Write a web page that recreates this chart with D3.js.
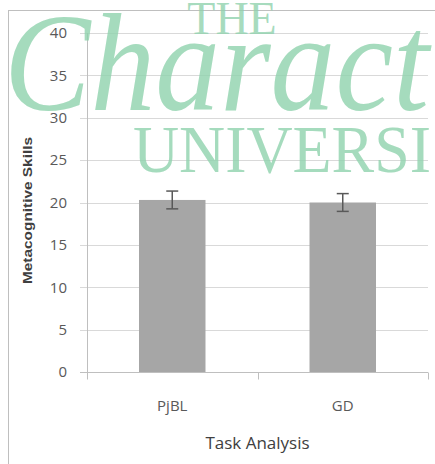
<!DOCTYPE html>
<html><head><meta charset="utf-8">
<script src="https://cdn.jsdelivr.net/npm/d3@7"></script>
<style>html,body{margin:0;padding:0;background:#fff;overflow:hidden}</style>
</head><body>
<svg id="c" width="435" height="464"></svg>
<script>
const categories = ["PjBL", "GD"];
const values = [20.3, 20.0];
const errors = [1.05, 1.05];
const yTicks = [0, 5, 10, 15, 20, 25, 30, 35, 40];
const yTitle = "Metacognitive Skills";
const xTitle = "Task Analysis";

const svg = d3.select("#c");
const W = 435, H = 464;
const m = {left: 87, right: 7, top: 33, bottom: 92};

// outer chart border
svg.append("rect").attr("x", 8.5).attr("y", 10.5).attr("width", 440).attr("height", 470)
  .attr("fill", "none").attr("stroke", "#bfbfbf").attr("stroke-width", 1);

const x = d3.scaleBand().domain(categories).range([m.left, W - m.right]).paddingInner(0.61).paddingOuter(0.305);
const y = d3.scaleLinear().domain([0, 40]).range([H - m.bottom, m.top]);

// gridlines
svg.append("g").selectAll("line").data(yTicks.filter(d => d > 0)).join("line")
  .attr("x1", m.left - 7).attr("x2", W - m.right)
  .attr("y1", d => Math.round(y(d)) + 0.5).attr("y2", d => Math.round(y(d)) + 0.5)
  .attr("stroke", "#d9d9d9").attr("stroke-width", 1);

// y axis line
svg.append("line").attr("x1", m.left + 0.5).attr("x2", m.left + 0.5)
  .attr("y1", y(40)).attr("y2", y(0)).attr("stroke", "#bfbfbf");

// y tick labels
const yAxis = d3.axisLeft(y).tickValues(yTicks).tickSize(0).tickPadding(20);
const gy = svg.append("g").attr("transform", `translate(${m.left},0)`).call(yAxis);
gy.select(".domain").remove();
gy.selectAll("text").attr("fill", "#595959").style("font-family", "'Open Sans', sans-serif").style("font-size", "15px");

// x axis
const x0 = Math.round(y(0)) + 0.5;
svg.append("line").attr("x1", m.left - 7).attr("x2", W - m.right).attr("y1", x0).attr("y2", x0).attr("stroke", "#bfbfbf");
const bandEdges = [m.left, m.left + (W - m.right - m.left) / 2, W - m.right];
svg.append("g").selectAll("line").data(bandEdges).join("line")
  .attr("x1", d => Math.round(d) + 0.5).attr("x2", d => Math.round(d) + 0.5)
  .attr("y1", x0).attr("y2", x0 + 7).attr("stroke", "#bfbfbf");

const xAxis = d3.axisBottom(x).tickSize(0).tickPadding(28);
const gx = svg.append("g").attr("transform", `translate(0,${y(0)})`).call(xAxis);
gx.select(".domain").remove();
gx.selectAll("text").attr("fill", "#595959").style("font-family", "'Open Sans', sans-serif").style("font-size", "15px");

// bars
svg.append("g").selectAll("rect").data(categories).join("rect")
  .attr("x", d => x(d)).attr("width", x.bandwidth())
  .attr("y", (d, i) => y(values[i])).attr("height", (d, i) => y(0) - y(values[i]))
  .attr("fill", "#a6a6a6");

// error bars
const eb = svg.append("g").attr("stroke", "#595959").attr("stroke-width", 1.5).attr("fill", "none");
categories.forEach((c, i) => {
  const cx = x(c) + x.bandwidth() / 2;
  const t = y(values[i] + errors[i]), b = y(values[i] - errors[i]);
  eb.append("line").attr("x1", cx).attr("x2", cx).attr("y1", t).attr("y2", b);
  eb.append("line").attr("x1", cx - 6).attr("x2", cx + 6).attr("y1", t).attr("y2", t);
  eb.append("line").attr("x1", cx - 6).attr("x2", cx + 6).attr("y1", b).attr("y2", b);
});

// axis titles
svg.append("text").attr("transform", `translate(32,${(y(0) + y(40)) / 2 + 8}) rotate(-90)`)
  .attr("text-anchor", "middle").attr("fill", "#404040")
  .style("font-family", "'Liberation Sans', Arial, sans-serif").style("font-size", "12px").style("font-weight", "bold")
  .attr("textLength", 147).attr("lengthAdjust", "spacingAndGlyphs")
  .text(yTitle);
svg.append("text").attr("x", bandEdges[1]).attr("y", 449).attr("text-anchor", "middle")
  .attr("fill", "#404040").style("font-family", "'Open Sans', sans-serif").style("font-size", "17px")
  .text(xTitle);

// watermark overlay
const wm = svg.append("g").attr("fill", "#8fd2ad").attr("fill-opacity", 0.8);
wm.append("text").attr("x", 232).attr("y", 34).attr("text-anchor", "middle")
  .style("font-family", "'Liberation Serif', serif").style("font-size", "46px").text("THE");
wm.append("text").attr("x", 4).attr("y", 110)
  .style("font-family", "'Liberation Serif', serif").style("font-style", "italic").style("font-size", "140px")
  .attr("textLength", 425).attr("lengthAdjust", "spacingAndGlyphs")
  .text("Charact");
wm.append("text").attr("x", 133).attr("y", 172)
  .style("font-family", "'Liberation Serif', serif").style("font-size", "68px")
  .attr("textLength", 298).attr("lengthAdjust", "spacingAndGlyphs")
  .text("UNIVERSI");
</script>
</body></html>
